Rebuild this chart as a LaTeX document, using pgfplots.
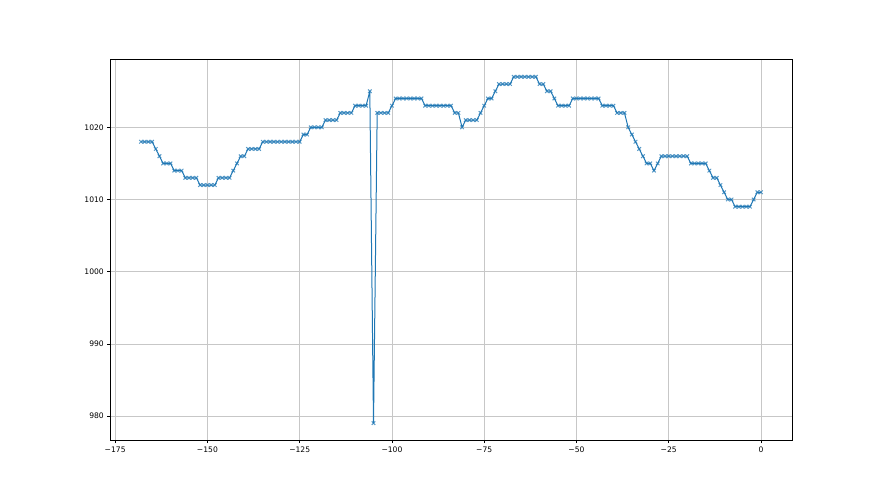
\documentclass[border=0pt]{standalone}
\usepackage{fontspec}
\setmainfont{DejaVu Sans}
\usepackage{pgfplots}
\pgfplotsset{compat=1.18}
\definecolor{mplblue}{HTML}{1F77B4}
\begin{document}
\begin{tikzpicture}
\path[use as bounding box] (-110pt,-54.5pt) rectangle (770pt,440.5pt);
\begin{axis}[at={(0pt,0pt)}, anchor=south west, scale only axis,
  width=682pt, height=381pt,
  xmin=-176.4, xmax=8.4, ymin=976.6, ymax=1029.4,
  xtick={-175,-150,-125,-100,-75,-50,-25,0},
  xticklabels={−175,−150,−125,−100,−75,−50,−25,0},
  ytick={980,990,1000,1010,1020},
  /pgf/number format/set thousands separator={},
  /pgf/number format/assume math mode=true,
  grid=major, grid style={color=black!22, line width=0.6pt},
  axis line style={line width=0.6pt},
  tick align=outside, tick pos=left, major tick length=2.7pt,
  tick style={black, line width=0.6pt},
  tick label style={font=\fontsize{7.6}{9}\selectfont},
]
\addplot[color=mplblue, line width=1pt, line join=round, mark=x, mark size=2.5pt,
  mark options={line width=1pt, opacity=0.75}] table {
x y
-168 1018
-167 1018
-166 1018
-165 1018
-164 1017
-163 1016
-162 1015
-161 1015
-160 1015
-159 1014
-158 1014
-157 1014
-156 1013
-155 1013
-154 1013
-153 1013
-152 1012
-151 1012
-150 1012
-149 1012
-148 1012
-147 1013
-146 1013
-145 1013
-144 1013
-143 1014
-142 1015
-141 1016
-140 1016
-139 1017
-138 1017
-137 1017
-136 1017
-135 1018
-134 1018
-133 1018
-132 1018
-131 1018
-130 1018
-129 1018
-128 1018
-127 1018
-126 1018
-125 1018
-124 1019
-123 1019
-122 1020
-121 1020
-120 1020
-119 1020
-118 1021
-117 1021
-116 1021
-115 1021
-114 1022
-113 1022
-112 1022
-111 1022
-110 1023
-109 1023
-108 1023
-107 1023
-106 1025
-105 979
-104 1022
-103 1022
-102 1022
-101 1022
-100 1023
-99 1024
-98 1024
-97 1024
-96 1024
-95 1024
-94 1024
-93 1024
-92 1024
-91 1023
-90 1023
-89 1023
-88 1023
-87 1023
-86 1023
-85 1023
-84 1023
-83 1022
-82 1022
-81 1020
-80 1021
-79 1021
-78 1021
-77 1021
-76 1022
-75 1023
-74 1024
-73 1024
-72 1025
-71 1026
-70 1026
-69 1026
-68 1026
-67 1027
-66 1027
-65 1027
-64 1027
-63 1027
-62 1027
-61 1027
-60 1026
-59 1026
-58 1025
-57 1025
-56 1024
-55 1023
-54 1023
-53 1023
-52 1023
-51 1024
-50 1024
-49 1024
-48 1024
-47 1024
-46 1024
-45 1024
-44 1024
-43 1023
-42 1023
-41 1023
-40 1023
-39 1022
-38 1022
-37 1022
-36 1020
-35 1019
-34 1018
-33 1017
-32 1016
-31 1015
-30 1015
-29 1014
-28 1015
-27 1016
-26 1016
-25 1016
-24 1016
-23 1016
-22 1016
-21 1016
-20 1016
-19 1015
-18 1015
-17 1015
-16 1015
-15 1015
-14 1014
-13 1013
-12 1013
-11 1012
-10 1011
-9 1010
-8 1010
-7 1009
-6 1009
-5 1009
-4 1009
-3 1009
-2 1010
-1 1011
0 1011
};
\end{axis}
\end{tikzpicture}
\end{document}
